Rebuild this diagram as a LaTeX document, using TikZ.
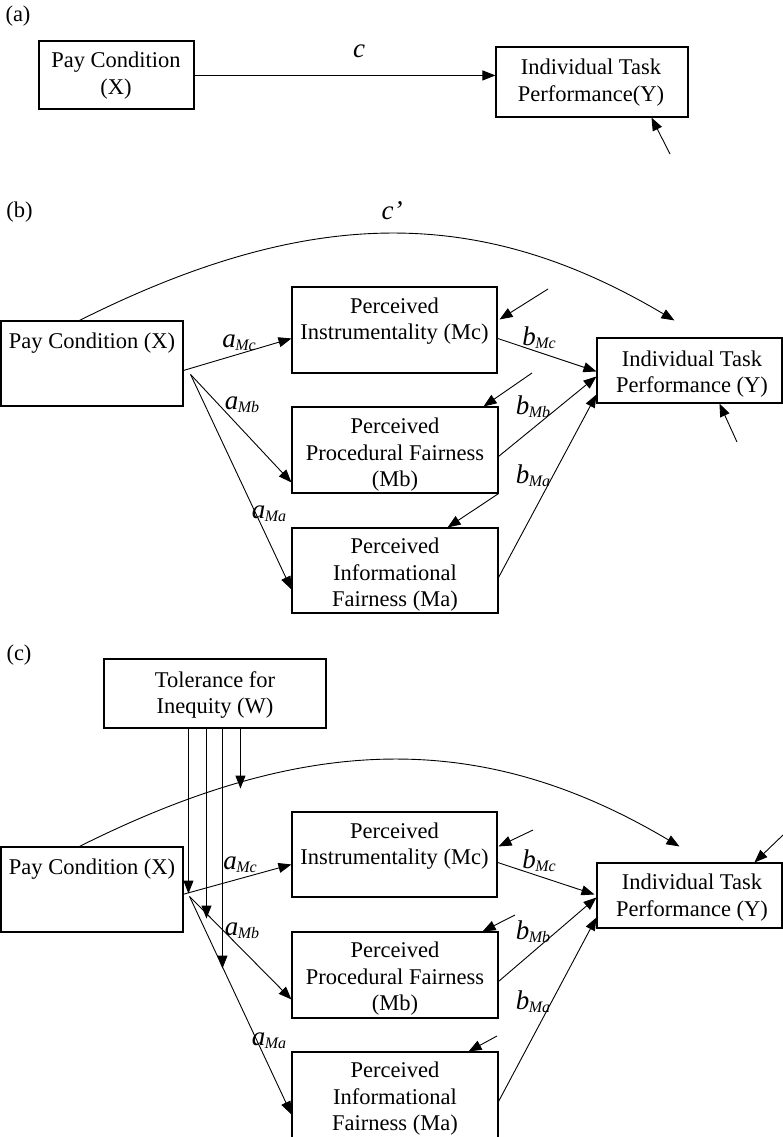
\documentclass[tikz,border=0pt]{standalone}
\usepackage{fontspec}
\setmainfont{Liberation Serif}
\usetikzlibrary{arrows.meta,calc}
\newcommand{\lbl}[2]{\textit{#1}\kern-0.5pt\raisebox{-0.25ex}{\fontsize{16}{16}\selectfont\textit{#2}}}
\begin{document}
\begin{tikzpicture}[x=1pt,y=-1pt,
  box/.style={draw,line width=1.1pt,rectangle,inner sep=0pt},
  txt/.style={align=center,inner sep=0pt,font=\fontsize{22.5}{26.5}\selectfont},
  lab/.style={inner sep=0pt,anchor=base,font=\fontsize{27}{27}\selectfont},
  arr/.style={line width=0.9pt,-{Triangle[length=13pt,width=10pt]}}]
\useasboundingbox (0,0) rectangle (782,1137);
% ---------------- (a)
\node[txt] (la) at (18,16) {(a)};
\node[box,minimum width=155pt,minimum height=68pt] (Xa) at (116.5,75) {};
\node[txt] (Xat) at (116,75.5) {Pay Condition\\(X)};
\node[box,minimum width=192pt,minimum height=70pt] (Ya) at (592,82) {};
\node[txt] (Yat) at (591,82.5) {Individual Task\\Performance(Y)};
\draw[arr] ($(Xa.north east)+(0,35)$) -- ($(Ya.north west)+(0,29)$);
\node[lab] (c) at (359,58) {\textit{c}};
\coordinate (ea) at (670,154);
\draw[arr] (ea) -- ($(Ya.south west)+(156,0)$);
% ---------------- (b)
\node[txt] (lb) at (19.5,212) {(b)};
\node[lab] (cp) at (392,219) {\textit{c’}};
\node[box,minimum width=182pt,minimum height=85pt] (Xb) at (92,363.5) {};
\node[txt] (Xbt) at (92,343) {Pay Condition (X)};
\node[box,minimum width=205pt,minimum height=86pt] (Mcb) at (394.5,330) {};
\node[txt] (Mcbt) at (394.5,321) {Perceived\\Instrumentality (Mc)};
\node[box,minimum width=185pt,minimum height=65pt] (Yb) at (689.5,370.5) {};
\node[txt] (Ybt) at (692,374) {Individual Task\\Performance (Y)};
\node[box,minimum width=206pt,minimum height=86pt] (Mbb) at (395,450) {};
\node[txt] (Mbbt) at (395,455) {Perceived\\Procedural Fairness\\(Mb)};
\node[box,minimum width=206pt,minimum height=85pt] (Mab) at (395,570.5) {};
\node[txt] (Mabt) at (395,575) {Perceived\\Informational\\Fairness (Ma)};
\coordinate (cb1) at ($(Xb.north west)+(79,0)$);
\coordinate (cb2) at ($(Yb.north west)+(78,-17)$);
\draw[arr] (cb1) .. controls (310,205) and (480,205) .. (cb2);
\draw[arr] ($(Xb.north east)+(0,50)$) -- ($(Mcb.north west)+(0,52)$);
\coordinate (Xbo) at ($(Xb.north east)+(7,54)$);
\draw[arr] (Xbo) -- ($(Mbb.north west)+(0,76)$);
\draw[arr] (Xbo) -- ($(Mab.north west)+(0,62)$);
\node[lab] (aMcb) at (239,347) {\lbl{a}{Mc}};
\node[lab] (aMbb) at (242,409) {\lbl{a}{Mb}};
\node[lab] (aMab) at (269,518) {\lbl{a}{Ma}};
\coordinate (eMcb) at (548,289);
\draw[arr] (eMcb) -- ($(Mcb.north east)+(2,33)$);
\draw[arr] ($(Mcb.north east)+(0,52)$) -- ($(Yb.north west)+(0,34)$);
\coordinate (eMbb) at (532,373);
\draw[arr] (eMbb) -- ($(Mbb.north east)+(-15,0)$);
\draw[arr] ($(Mbb.north east)+(0,50)$) -- ($(Yb.north west)+(0,39)$);
\draw[arr] (Mbb.south east) -- ($(Mab.north east)+(-51,0)$);
\draw[arr] ($(Mab.north east)+(0,50)$) -- ($(Yb.north west)+(0,57)$);
\coordinate (eYb) at (737,442);
\draw[arr] (eYb) -- ($(Yb.south west)+(123,0)$);
\node[lab] (bMcb) at (539,345) {\lbl{b}{Mc}};
\node[lab] (bMbb) at (533,414) {\lbl{b}{Mb}};
\node[lab] (bMab) at (533,483) {\lbl{b}{Ma}};
% ---------------- (c)
\node[txt] (lc) at (19,655) {(c)};
\node[box,minimum width=222pt,minimum height=69pt] (W) at (215,693.5) {};
\node[txt] (Wt) at (215,695) {Tolerance for\\Inequity (W)};
\node[box,minimum width=182pt,minimum height=85pt] (Xc) at (92,889.5) {};
\node[txt] (Xct) at (92,869) {Pay Condition (X)};
\node[box,minimum width=205pt,minimum height=85pt] (Mcc) at (394.5,854.5) {};
\node[txt] (Mcct) at (394.5,846) {Perceived\\Instrumentality (Mc)};
\node[box,minimum width=185pt,minimum height=65pt] (Yc) at (689.5,895.5) {};
\node[txt] (Yct) at (692,897.5) {Individual Task\\Performance (Y)};
\node[box,minimum width=206pt,minimum height=86pt] (Mbc) at (395,975) {};
\node[txt] (Mbct) at (395,979) {Perceived\\Procedural Fairness\\(Mb)};
\node[box,minimum width=206pt,minimum height=86pt] (Mac) at (395,1095) {};
\node[txt] (Mact) at (395,1099) {Perceived\\Informational\\Fairness (Ma)};
\coordinate (cc1) at ($(Xc.north west)+(79,0)$);
\coordinate (cc2) at ($(Yc.north west)+(83,-16)$);
\draw[arr] (cc1) .. controls (310,731) and (485,731) .. (cc2);
\draw[arr] ($(W.south west)+(85,0)$) -- ++(0,165);
\draw[arr] ($(W.south west)+(103,0)$) -- ++(0,190);
\draw[arr] ($(W.south west)+(119,0)$) -- ++(0,240);
\draw[arr] ($(W.south west)+(137,0)$) -- ++(0,60);
\draw[arr] ($(Xc.north east)+(-1,48)$) -- ($(Mcc.north west)+(0,53)$);
\coordinate (Xco) at ($(Xc.north east)+(6,50)$);
\draw[arr] (Xco) -- ($(Mbc.north west)+(0,68)$);
\draw[arr] (Xco) -- ($(Mac.north west)+(0,63)$);
\node[lab] (aMcc) at (240,869) {\lbl{a}{Mc}};
\node[lab] (aMbc) at (242,935) {\lbl{a}{Mb}};
\node[lab] (aMac) at (269,1045) {\lbl{a}{Ma}};
\coordinate (eMcc) at (533,830);
\draw[arr] (eMcc) -- ($(Mcc.north east)+(1,35)$);
\draw[arr] ($(Mcc.north east)+(0,51)$) -- ($(Yc.north west)+(-2,32)$);
\coordinate (eYc) at (783,835);
\draw[arr] (eYc) -- ($(Yc.north west)+(158,0)$);
\coordinate (eMbc) at (515,915);
\draw[arr] (eMbc) -- ($(Mbc.north east)+(-16,0)$);
\draw[arr] ($(Mbc.north east)+(0,50)$) -- ($(Yc.north west)+(0,35)$);
\coordinate (eMac) at (497,1036);
\draw[arr] (eMac) -- ($(Mac.north east)+(-30,0)$);
\draw[arr] ($(Mac.north east)+(0,50)$) -- ($(Yc.north west)+(0,55)$);
\node[lab] (bMcc) at (539,868) {\lbl{b}{Mc}};
\node[lab] (bMbc) at (533,939) {\lbl{b}{Mb}};
\node[lab] (bMac) at (533,1009) {\lbl{b}{Ma}};
\end{tikzpicture}
\end{document}
